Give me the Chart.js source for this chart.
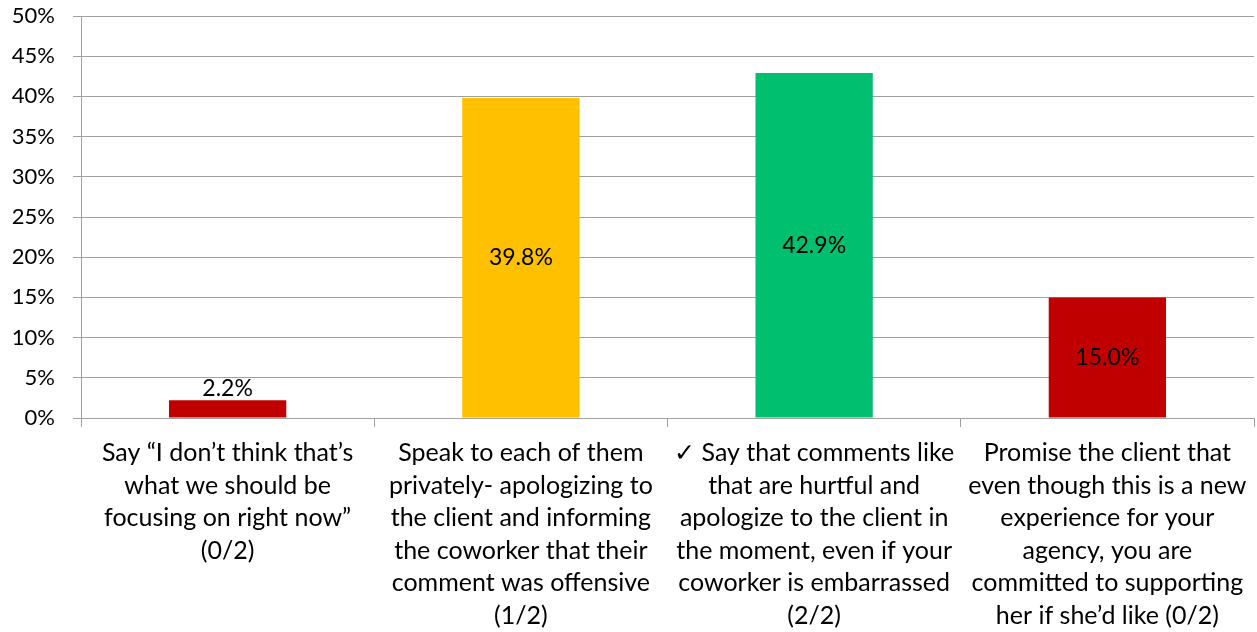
<!DOCTYPE html>
<html>
<head>
<meta charset="utf-8">
<script src="https://cdn.jsdelivr.net/npm/chart.js@4"></script>
<style>
  html, body { margin: 0; padding: 0; background: #fff; }
  #wrap { width: 1257px; height: 632px; }
</style>
</head>
<body>
<div id="wrap"><canvas id="myChart" width="1257" height="632"></canvas></div>
<script>
// answer options, split into the lines shown under each bar
var answers = [
  ["Say \u201cI don\u2019t think that\u2019s", "what we should be", "focusing on right now\u201d", "(0/2)"],
  ["Speak to each of them", "privately- apologizing to", "the client and informing", "the coworker that their", "comment was offensive", "(1/2)"],
  ["\u2713 Say that comments like", "that are hurtful and", "apologize to the client in", "the moment, even if your", "coworker is embarrassed", "(2/2)"],
  ["Promise the client that", "even though this is a new", "experience for your", "agency, you are", "committed to supporting", "her if she\u2019d like (0/2)"]
];
var shares = [2.2, 39.8, 42.9, 15.0];
var barColors = ["#C00000", "#FFC000", "#00BF6F", "#C00000"];
var yTicks = [0, 5, 10, 15, 20, 25, 30, 35, 40, 45, 50];

var FONT = "Lato, 'Open Sans', sans-serif";
var GRID = "#A0A0A0";

// writes the percentage in the middle of each bar (just above it if the bar is too short)
var barLabels = {
  id: "barLabels",
  afterDatasetsDraw: function (chart) {
    var c = chart.ctx;
    var meta = chart.getDatasetMeta(0);
    c.save();
    c.font = "23px " + FONT;
    c.fillStyle = "#000";
    c.textAlign = "center";
    c.textBaseline = "middle";
    meta.data.forEach(function (bar, i) {
      var h = bar.base - bar.y;
      var y = h < 26 ? bar.y - 12 : (bar.y + bar.base) / 2;
      c.fillText(shares[i].toFixed(1) + "%", bar.x, y);
    });
    c.restore();
  }
};

const ctx = document.getElementById("myChart");
new Chart(ctx, {
  type: "bar",
  data: {
    labels: answers,
    datasets: [
      {
        label: "Share",
        data: shares,
        backgroundColor: barColors,
        borderWidth: 0,
        barPercentage: 0.4,
        categoryPercentage: 1.0,
      },
    ],
  },
  options: {
    responsive: false,
    animation: false,
    layout: { padding: { top: 16, right: 3, left: 0, bottom: 0 } },
    plugins: {
      legend: { display: false },
      tooltip: { enabled: false },
    },
    scales: {
      x: {
        grid: {
          offset: true,
          drawOnChartArea: false,
          drawTicks: true,
          tickLength: 9,
          color: GRID,
        },
        border: { color: GRID, width: 1 },
        ticks: {
          color: "#000",
          padding: 10,
          maxRotation: 0,
          autoSkip: false,
          font: { family: FONT, size: 25, lineHeight: 1.3 },
        },
        afterFit: function (axis) { axis.height = 214; },
      },
      y: {
        min: 0,
        max: 50,
        afterBuildTicks: function (axis) {
          axis.ticks = yTicks.map(function (v) { return { value: v }; });
        },
        grid: {
          color: GRID,
          tickLength: 8,
          drawTicks: true,
        },
        border: { color: GRID, width: 1 },
        ticks: {
          color: "#000",
          padding: 18,
          font: { family: FONT, size: 22 },
          callback: function (v) { return v + "%"; },
        },
        afterFit: function (axis) {
          axis.width = 81;
          // let the layout padding alone decide the top edge
          axis.paddingTop = 0;
          axis.paddingBottom = 0;
        },
      },
    },
  },
  plugins: [barLabels],
});
</script>
</body>
</html>
